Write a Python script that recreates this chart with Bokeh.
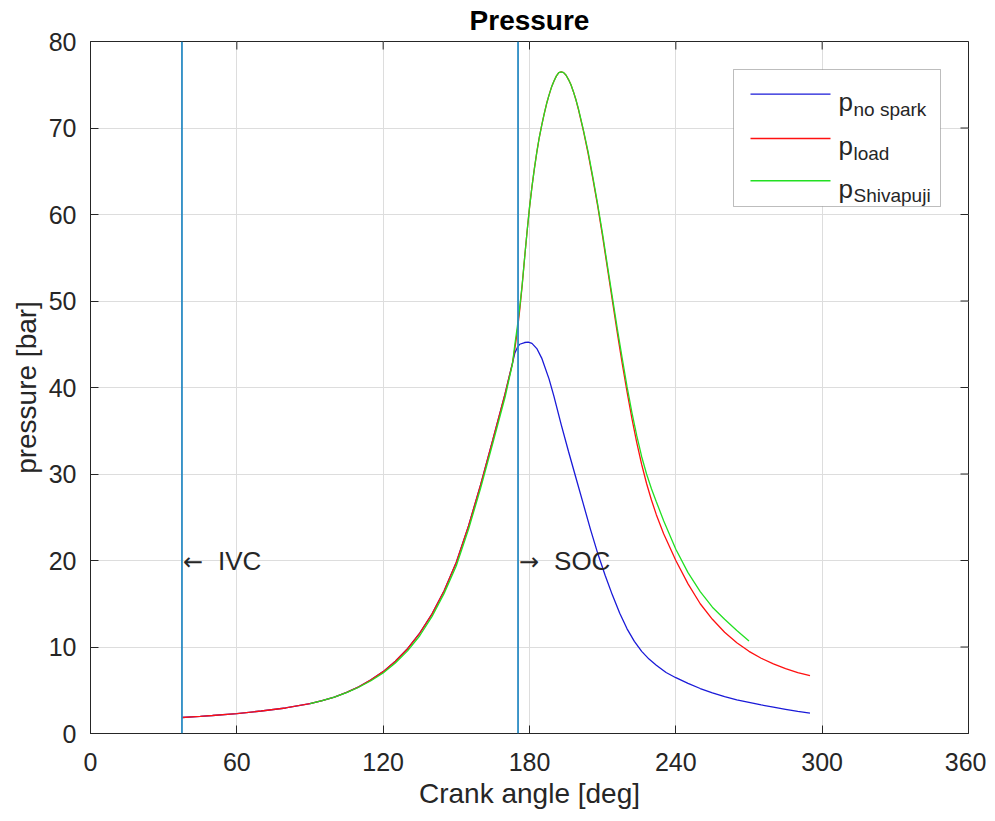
import math
from bokeh.plotting import figure
from bokeh.models import Span, Label, BoxAnnotation, FixedTicker, Range1d
from bokeh.embed import file_html
from bokeh.resources import INLINE

# ---------------- data ----------------
x_ticks = [0, 60, 120, 180, 240, 300, 360]
y_ticks = [0, 10, 20, 30, 40, 50, 60, 70, 80]
x_max = 360
y_max = 80

ivc_deg = 37.5
soc_deg = 175.3
marker_label_p = 20

theta_nospark = [37.5, 45, 50, 60, 70, 80, 90, 95, 100, 105, 110, 115, 120, 125, 130, 135, 140,
                 145, 150, 155, 160, 165, 170, 173, 174, 175, 176, 178, 179.5, 181, 183, 185,
                 188, 190, 193, 196, 199, 202, 205, 208, 211, 214, 217, 220, 223, 226, 229,
                 232, 236, 240, 245, 250, 255, 260, 265, 270, 275, 280, 285, 290, 295]
p_nospark = [1.85, 1.98, 2.08, 2.3, 2.6, 2.95, 3.45, 3.8, 4.2, 4.75, 5.4, 6.2, 7.15, 8.35, 9.8, 11.6, 13.8,
             16.5, 19.8, 24.0, 28.8, 34.0, 39.3, 42.8, 44.0, 44.6, 45.0, 45.2, 45.25, 45.1, 44.5, 43.4,
             41.0, 39.0, 35.7, 32.6, 29.6, 26.6, 23.6, 20.8, 18.3, 16.0, 13.9, 12.1, 10.65, 9.5, 8.6,
             7.9, 7.05, 6.45, 5.8, 5.2, 4.7, 4.25, 3.9, 3.6, 3.3, 3.05, 2.8, 2.55, 2.36]

theta_load = [37.5, 45, 50, 60, 70, 80, 90, 95, 100, 105, 110, 115, 120, 125, 130, 135, 140,
              145, 150, 155, 160, 165, 170, 173, 174, 175, 176, 177, 178, 179, 180, 181, 182,
              183, 184, 185, 186, 187, 188, 189, 190, 191, 192, 193, 194, 195, 196, 197, 198,
              199, 200, 202, 204, 206, 208, 210, 212, 214, 216, 218, 220, 222, 224, 226, 228,
              230, 232, 235, 240, 245, 250, 255, 260, 265, 270, 275, 280, 285, 290, 295]
p_load = [1.85, 1.98, 2.08, 2.3, 2.6, 2.95, 3.45, 3.8, 4.2, 4.75, 5.4, 6.2, 7.15, 8.35, 9.8, 11.6, 13.8,
          16.5, 19.8, 24.0, 28.8, 34.0, 39.3, 42.8, 44.5, 46.5, 49.0, 51.8, 55.0, 58.0, 60.8, 63.2, 65.3,
          67.2, 68.9, 70.3, 71.6, 72.8, 73.8, 74.7, 75.4, 76.0, 76.4, 76.5, 76.4, 76.1, 75.6, 75.0, 74.2,
          73.3, 72.2, 69.8, 67.1, 64.1, 60.9, 57.4, 53.7, 50.0, 46.3, 42.8, 39.5, 36.4, 33.6, 31.1, 28.9,
          27.0, 25.3, 23.1, 20.0, 17.3, 15.0, 13.2, 11.7, 10.5, 9.5, 8.7, 8.05, 7.5, 7.05, 6.7]

theta_shiv = [90, 95, 100, 105, 110, 115, 120, 125, 130, 135, 140, 145, 150, 155, 160, 165, 170,
              173, 174, 175, 176, 177, 178, 179, 180, 181, 182, 183, 184, 185, 186, 187, 188,
              189, 190, 191, 192, 193, 194, 195, 196, 197, 198, 199, 200, 202, 204, 206, 208,
              210, 212, 214, 216, 218, 220, 222, 224, 226, 228, 230, 232, 235, 240, 245, 250, 255,
              260, 265, 270]
p_shiv = [3.45, 3.8, 4.2, 4.72, 5.35, 6.1, 7.0, 8.15, 9.55, 11.3, 13.5, 16.2, 19.4, 23.6, 28.4, 33.6, 38.9,
          42.7, 45.0, 47.0, 49.3, 51.9, 55.0, 58.0, 60.8, 63.2, 65.3, 67.2, 68.9, 70.3, 71.6, 72.8, 73.8,
          74.7, 75.4, 76.0, 76.4, 76.5, 76.4, 76.1, 75.6, 75.0, 74.2, 73.3, 72.3, 69.9, 67.3, 64.3, 61.1,
          57.7, 54.0, 50.4, 46.8, 43.4, 40.1, 37.1, 34.4, 32.0, 30.0, 28.3, 26.8, 24.6, 21.3, 18.6, 16.4, 14.6,
          13.2, 11.9, 10.7]

series_names = ["no spark", "load", "Shivapuji"]
series_colors = ["#1a1ad8", "#ff1010", "#22e022"]

# ---------------- styling ----------------
FONT = "Liberation Sans"
TXT = "#262626"

p = figure(frame_width=878, frame_height=692,
           x_range=Range1d(0, x_max), y_range=Range1d(0, y_max),
           output_backend="svg", toolbar_location=None,
           min_border_left=90, min_border_right=18, min_border_top=33, min_border_bottom=60,
           background_fill_color="white", border_fill_color="white")

p.title.text = "Pressure"
p.title.align = "center"
p.title.vertical_align = "top"
p.title.text_font = FONT
p.title.text_font_size = "28px"
p.title.text_font_style = "bold"
p.title.text_color = "#000000"
p.title.standoff = 8

p.outline_line_color = TXT
p.outline_line_width = 1

p.xaxis.ticker = FixedTicker(ticks=x_ticks)
p.yaxis.ticker = FixedTicker(ticks=y_ticks)

for ax, lab, standoff in ((p.xaxis[0], "Crank angle [deg]", 19), (p.yaxis[0], "pressure [bar]", 14)):
    ax.axis_label = lab
    ax.axis_label_text_font = FONT
    ax.axis_label_text_font_size = "28px"
    ax.axis_label_text_font_style = "normal"
    ax.axis_label_text_color = TXT
    ax.axis_label_standoff = 4
    ax.major_label_text_font = FONT
    ax.major_label_text_font_size = "25px"
    ax.major_label_text_color = TXT
    ax.major_label_standoff = standoff
    ax.major_tick_in = 8
    ax.major_tick_out = 0
    ax.major_tick_line_color = TXT
    ax.minor_tick_line_color = None
    ax.axis_line_color = TXT

p.xgrid.ticker = FixedTicker(ticks=x_ticks)
p.ygrid.ticker = FixedTicker(ticks=y_ticks)
p.grid.grid_line_color = "#dddddd"
p.grid.grid_line_width = 1

# box ticks on top and right edges (inward, 8 px)
p.ray(x=x_ticks, y=[y_max] * len(x_ticks), length=8, length_units="screen",
      angle=-math.pi / 2, line_color=TXT, line_width=1)
p.ray(x=[x_max] * len(y_ticks), y=y_ticks, length=8, length_units="screen",
      angle=math.pi, line_color=TXT, line_width=1)

# curves
p.line(theta_nospark, p_nospark, line_color=series_colors[0], line_width=1.3)
p.line(theta_load, p_load, line_color=series_colors[1], line_width=1.3)
p.line(theta_shiv, p_shiv, line_color=series_colors[2], line_width=1.3)

# marker lines and texts
for loc in (ivc_deg, soc_deg):
    p.add_layout(Span(location=loc, dimension="height", line_color="#2b8cc4", line_width=1.8))

for loc, arrow, word in ((ivc_deg, "\u2190", "IVC"), (soc_deg, "\u2192", "SOC")):
    p.add_layout(Label(x=loc, y=marker_label_p, text=arrow, text_baseline="middle",
                       x_offset=1, y_offset=-1,
                       text_font="DejaVu Sans", text_font_size="24px", text_color=TXT))
    p.add_layout(Label(x=loc, y=marker_label_p, text=word, text_baseline="middle",
                       x_offset=36,
                       text_font=FONT, text_font_size="26px", text_color=TXT))

# custom legend (frame-relative screen units)
p.add_layout(BoxAnnotation(left=643, right=850, bottom=527, top=664,
                           left_units="screen", right_units="screen",
                           bottom_units="screen", top_units="screen",
                           fill_color="white", fill_alpha=1.0,
                           line_color=TXT, line_width=1, level="overlay"))
row_y = [639.4, 595.0, 552.7]
for name, col, yy in zip(series_names, series_colors, row_y):
    p.add_layout(BoxAnnotation(left=660, right=740, bottom=yy - 0.7, top=yy + 0.7,
                               left_units="screen", right_units="screen",
                               bottom_units="screen", top_units="screen",
                               fill_color=col, fill_alpha=1.0, line_alpha=0, level="overlay"))
    p.add_layout(Label(x=748, y=yy - 7.7, x_units="screen", y_units="screen", text="p",
                       text_baseline="alphabetic", text_font=FONT, text_font_size="26px",
                       text_color=TXT, level="overlay"))
    p.add_layout(Label(x=763, y=yy - 15, x_units="screen", y_units="screen", text=name,
                       text_baseline="alphabetic", text_font=FONT, text_font_size="19px",
                       text_color=TXT, level="overlay"))

open("out.html", "w").write(file_html(p, INLINE))
